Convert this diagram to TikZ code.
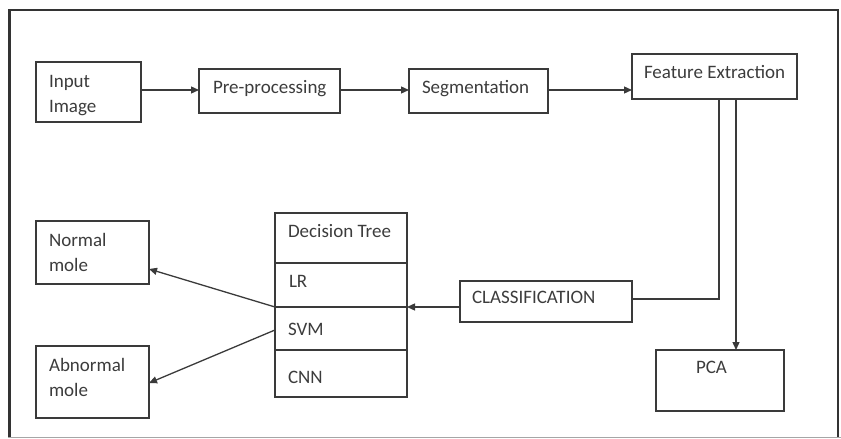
\documentclass[tikz,border=0pt]{standalone}
\usepackage{fontspec}
\setmainfont{Carlito}
\usetikzlibrary{arrows.meta}
\definecolor{linec}{HTML}{3A3A3A}
\definecolor{textc}{HTML}{3C3C3C}
\definecolor{framec}{HTML}{333333}
\tikzset{
  box/.style={draw=linec, line width=1.4pt, anchor=north west, inner sep=0pt, outer sep=0pt},
  lbl/.style={anchor=base west, inner sep=0pt, outer sep=0pt, text=textc, font=\fontsize{19}{23}\selectfont},
  conn/.style={draw=linec, line width=1.3pt},
  arr/.style={conn, -{Triangle[length=8pt, width=7pt]}},
}
\begin{document}
\begin{tikzpicture}[x=1pt, y=-1pt]
\useasboundingbox (0,0) rectangle (841,439);
% outer frame
\draw[framec, line width=2.6pt] (9.5,437) -- (9.5,10) -- (838,10) -- (838,437);
\draw[gray!70, line width=1.2pt] (8,437.5) -- (841,437.5);

% boxes
\node[box, minimum width=105pt, minimum height=60pt] (inp) at (36,62) {};
\node[box, minimum width=141pt, minimum height=44pt] (pre) at (199,69) {};
\node[box, minimum width=139pt, minimum height=44pt] (seg) at (409,69) {};
\node[box, minimum width=165pt, minimum height=45pt] (fe) at (632,54) {};
\node[box, minimum width=172pt, minimum height=41pt] (cls) at (460,281) {};
\node[box, minimum width=128pt, minimum height=61pt] (pca) at (656,350) {};
\node[box, minimum width=113pt, minimum height=63pt] (nm) at (36,221) {};
\node[box, minimum width=113pt, minimum height=72pt] (am) at (36,346) {};
% classifier stack
\node[box, minimum width=132pt, minimum height=50pt] (dt) at (275,213) {};
\node[box, minimum width=132pt, minimum height=44pt] (lr) at (275,263) {};
\node[box, minimum width=132pt, minimum height=43pt] (svm) at (275,307) {};
\node[box, minimum width=132pt, minimum height=47pt] (cnn) at (275,350) {};

% texts
\node[lbl] (tinp1) at (49,87) {Input};
\node[lbl] (tinp2) at (49,112) {Image};
\node[lbl] (tpre) at (213,93) {Pre-processing};
\node[lbl] (tseg) at (422,93) {Segmentation};
\node[lbl] (tfe) at (644,78) {Feature Extraction};
\node[lbl] (tcls) at (472,303) {CLASSIFICATION};
\node[lbl] (tpca) at (696,373) {PCA};
\node[lbl] (tnm1) at (49,246) {Normal};
\node[lbl] (tnm2) at (49,271) {mole};
\node[lbl] (tam1) at (49,371) {Abnormal};
\node[lbl] (tam2) at (49,396) {mole};
\node[lbl] (tdt) at (288,237) {Decision Tree};
\node[lbl] (tlr) at (289,287) {LR};
\node[lbl] (tsvm) at (288,335) {SVM};
\node[lbl] (tcnn) at (288,383) {CNN};

% pipeline connectors
\draw[arr] (inp.east |- 0,90) -- (pre.west |- 0,90);
\draw[arr] (pre.east |- 0,90) -- (seg.west |- 0,90);
\draw[arr] (seg.east |- 0,90) -- (fe.west |- 0,90);
\draw[conn] (fe.south -| 719,0) -- (719,299) -- (cls.east |- 0,299);
\draw[arr] (fe.south -| 736,0) -- (pca.north -| 736,0);
\draw[arr] (cls.west |- 0,307) -- (svm.north east);
\draw[arr] (svm.north west) -- (nm.east |- 0,269);
\draw[arr] (svm.west |- 0,330) -- (am.east |- 0,383);
\end{tikzpicture}
\end{document}
